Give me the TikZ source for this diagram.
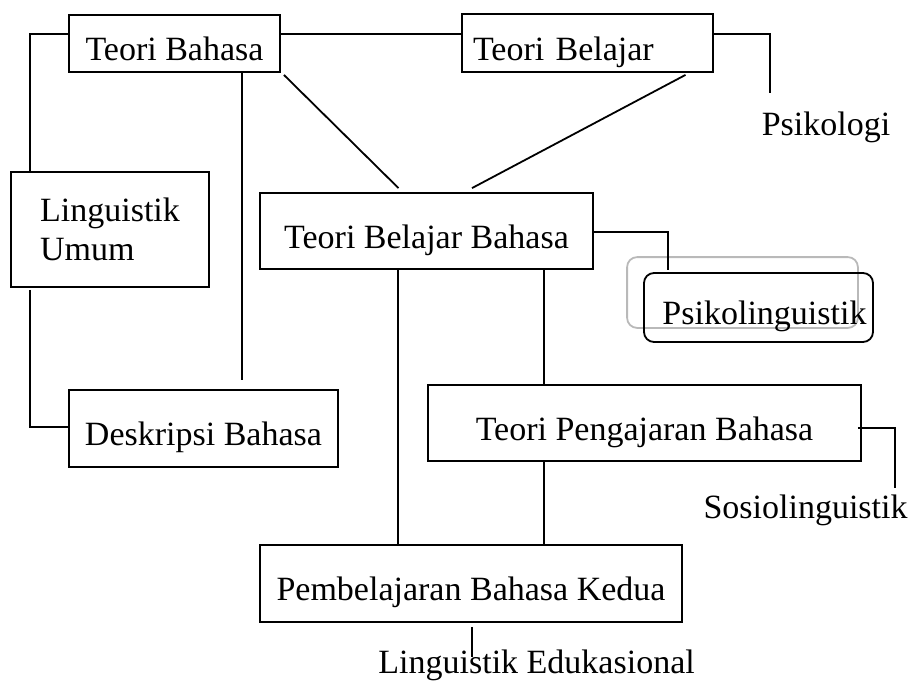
\documentclass[tikz,border=0pt]{standalone}
\usepackage{fontspec}
\setmainfont{Liberation Serif}
\usetikzlibrary{calc,positioning,backgrounds}

\begin{document}
\begin{tikzpicture}[x=0.5pt,y=-0.5pt,every node/.style={font=\fontsize{17}{19.5}\selectfont},
  kotak/.style={draw,line width=0.9pt,rectangle,inner sep=0pt},
  baris/.style={text height=17pt,text depth=0pt},
  garis/.style={line width=0.9pt}]
\useasboundingbox (0,0) rectangle (911,681);
\node[kotak,baris,minimum width=105.5pt,minimum height=28.5pt] (tb) at (174.5,43.5) {Teori Bahasa};
\node[kotak,baris,text width=114.5pt,inner xsep=5.5pt,align=left,minimum height=29pt] (tbl) at (587.5,43) {Teori Belajar};
\node[kotak,align=left,minimum width=99pt,minimum height=57.5pt] (lu) at (110,229.5) {Linguistik\\Umum};
\node[kotak,baris,minimum width=134.5pt,minimum height=38.5pt] (dk) at (203.5,428.5) {Deskripsi Bahasa};
\node[kotak,baris,minimum width=166.5pt,minimum height=38pt] (tbb) at (426.5,231) {Teori Belajar Bahasa};
\node[kotak,baris,rounded corners=5pt,minimum width=114.5pt,minimum height=34.5pt] (psl) at (758.5,307.5) {\hspace*{6pt}Psikolinguistik};
\node[kotak,baris,minimum width=216.5pt,minimum height=38pt] (tpb) at (644.5,423) {Teori Pengajaran Bahasa};
\node[kotak,baris,minimum width=211pt,minimum height=38.5pt] (pbk) at (471,583.5) {Pembelajaran Bahasa Kedua};
\node[anchor=base,inner sep=0pt] (psi) at (826,135) {Psikologi};
\node[anchor=base east,inner sep=0pt] (sos) at (908,518) {Sosiolinguistik};
\node[anchor=base west,inner sep=0pt] (led) at (378,673) {Linguistik Edukasional};
\coordinate (psiujung) at (770,93);
\coordinate (sosujung) at (895,488);
\coordinate (ledujung) at (472,657);
\begin{scope}[on background layer]
\draw[line width=0.9pt,gray!55,rounded corners=5pt] ($(psl.north west)+(-16,-15)$) rectangle ($(psl.south east)+(-16,-15)$);
\end{scope}
\draw[garis] ($(tb.west)+(0,-9.5)$) -| ($(lu.north west)+(20,0)$);
\draw[garis] ($(lu.south west)+(20,2)$) |- ($(dk.west)+(0,-1.5)$);
\draw[garis] ($(tb.south)+(67.5,0)$) -- ($(dk.north)+(38.5,-9)$);
\draw[garis] ($(tb.east)+(0,-9.5)$) -- ($(tbl.west)+(0,-9)$);
\draw[garis] ($(tbl.east)+(0,-9)$) -| (psiujung);
\draw[garis] ($(tb.south east)+(3,2)$) -- ($(tbb.north)+(-28,-4)$);
\draw[garis] ($(tbl.south)+(98,2)$) -- ($(tbb.north)+(45.5,-4)$);
\draw[garis] ($(tbb.east)+(0,1)$) -| ($(psl.north west)+(25,-2)$);
\draw[garis] ($(tbb.south)+(117.5,0)$) -- ($(tpb.north)+(-100.5,0)$);
\draw[garis] ($(tbb.south)+(-28.5,0)$) -- ($(pbk.north)+(-73,0)$);
\draw[garis] ($(tpb.south)+(-100.5,0)$) -- ($(pbk.north)+(73,0)$);
\draw[garis] ($(tpb.east)+(-4,5)$) -| (sosujung);
\draw[garis] ($(pbk.south)+(1,4)$) -- (ledujung);
\end{tikzpicture}
\end{document}
